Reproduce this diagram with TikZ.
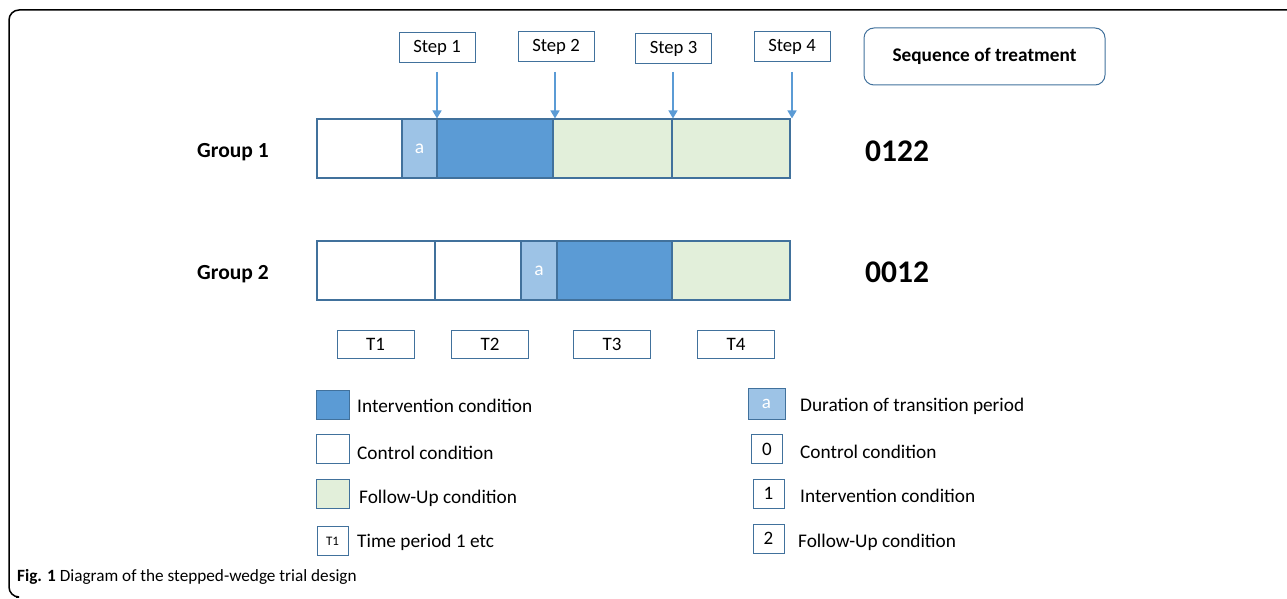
\documentclass[tikz,border=0pt]{standalone}
\usepackage{fontspec}
\setmainfont{Carlito}
\usetikzlibrary{arrows.meta}
\definecolor{darkb}{HTML}{5B9BD5}
\definecolor{lightb}{HTML}{9DC3E6}
\definecolor{greenf}{HTML}{E2EFDA}
\definecolor{edgeb}{HTML}{41719C}
\definecolor{arrb}{HTML}{5B9BD5}
\tikzset{
  seg/.style={draw=edgeb, line width=1.1pt, minimum height=59pt, inner sep=0pt, font=\fontsize{19.5}{19.5}\selectfont, text=white},
  stepbox/.style={draw=edgeb, line width=1pt, fill=white, minimum width=76pt, minimum height=30pt, inner sep=0pt, font=\fontsize{18.7}{18.7}\selectfont},
  tbox/.style={draw=edgeb, line width=1pt, minimum width=77pt, minimum height=28pt, inner sep=0pt, font=\fontsize{19}{19}\selectfont},
  legsq/.style={draw=edgeb, line width=1pt, minimum width=33pt, minimum height=29pt, inner sep=0pt, font=\fontsize{19}{19}\selectfont},
  legnum/.style={draw=edgeb, line width=1pt, minimum width=31pt, minimum height=29pt, inner sep=0pt, font=\fontsize{19}{19}\selectfont},
  legtxt/.style={anchor=west, inner sep=0pt, font=\fontsize{19.3}{19.3}\selectfont},
  grp/.style={anchor=west, inner sep=0pt, font=\fontsize{21.5}{21.5}\selectfont\bfseries},
  seq/.style={anchor=west, inner sep=0pt, font=\fontsize{31.5}{31.5}\selectfont\bfseries},
  arr/.style={draw=arrb, line width=1.6pt, -{Triangle[width=9pt,length=8pt]}},
}
\begin{document}
\begin{tikzpicture}[x=1pt,y=-1pt]
\useasboundingbox (0,0) rectangle (1287,599);
% outer frame
\draw[line width=1.5pt, rounded corners=10pt] (1287,10) -- (9,10) -- (9,597) -- (16,597);
% step boxes
\node[stepbox] (s1) at (437,48) {Step 1};
\node[stepbox] (s2) at (556,46.5) {Step 2};
\node[stepbox] (s3) at (673.5,48.5) {Step 3};
\node[stepbox] (s4) at (792,46.5) {Step 4};
% sequence box
\node[draw=edgeb, line width=1pt, rounded corners=10pt, minimum width=241pt, minimum height=57pt, inner sep=0pt, font=\fontsize{19.3}{19.3}\selectfont\bfseries] (seqbox) at (984.5,56.5) {Sequence of treatment};
% group 1 bar
\node[seg, fill=white, minimum width=85pt] (g1a) at (359.5,148.5) {};
\node[seg, fill=lightb, minimum width=35pt] (g1b) at (419.5,148.5) {a};
\node[seg, fill=darkb, minimum width=116pt] (g1c) at (495,148.5) {};
\node[seg, fill=greenf, minimum width=119pt] (g1d) at (612.5,148.5) {};
\node[seg, fill=greenf, minimum width=118pt] (g1e) at (731,148.5) {};
% group 2 bar
\node[seg, fill=white, minimum width=118pt] (g2a) at (376,270.5) {};
\node[seg, fill=white, minimum width=86pt] (g2b) at (478,270.5) {};
\node[seg, fill=lightb, minimum width=36pt] (g2c) at (539,270.5) {a};
\node[seg, fill=darkb, minimum width=115pt] (g2d) at (614.5,270.5) {};
\node[seg, fill=greenf, minimum width=118pt] (g2e) at (731,270.5) {};
% arrows
\coordinate (a1) at (437,72);
\coordinate (a2) at (555,72);
\coordinate (a3) at (673,72);
\coordinate (a4) at (792,72);
\draw[arr] (a1) -- (a1 |- g1a.north);
\draw[arr] (a2) -- (a2 |- g1a.north);
\draw[arr] (a3) -- (a3 |- g1a.north);
\draw[arr] (a4) -- (a4 |- g1a.north);
% group labels
\node[grp] (l1) at (197,152) {Group 1};
\node[grp] (l2) at (197,274) {Group 2};
\node[seq] (q1) at (865,151) {0122};
\node[seq] (q2) at (865,272) {0012};
% time boxes
\node[tbox] (t1) at (375.5,344.5) {T1};
\node[tbox] (t2) at (490,344.5) {T2};
\node[tbox] (t3) at (612,344.5) {T3};
\node[tbox] (t4) at (736,344.5) {T4};
% legend left
\node[legsq, fill=darkb] (k1) at (332.5,404.5) {};
\node[legtxt] (k1t) at (357,406) {Intervention condition};
\node[legsq, fill=white] (k2) at (332.5,449) {};
\node[legtxt] (k2t) at (357,453) {Control condition};
\node[legsq, fill=greenf] (k3) at (332.5,494) {};
\node[legtxt] (k3t) at (359,498) {Follow-Up condition};
\node[legnum, font=\fontsize{13}{13}\selectfont] (k4) at (332.5,541) {T1};
\node[legtxt] (k4t) at (357,542) {Time period 1 etc};
% legend right
\node[legsq, fill=lightb, minimum width=37pt, minimum height=31pt, text=white] (r1) at (766.5,403.5) {a};
\node[legtxt] (r1t) at (800,406) {Duration of transition period};
\node[legnum] (r2) at (767,449) {0};
\node[legtxt] (r2t) at (800,452) {Control condition};
\node[legnum] (r3) at (768.5,493.5) {1};
\node[legtxt] (r3t) at (800,496) {Intervention condition};
\node[legnum] (r4) at (768.5,538.5) {2};
\node[legtxt] (r4t) at (798,542) {Follow-Up condition};
% caption
\node[anchor=west, inner sep=0pt, font=\fontsize{17.2}{17.2}\selectfont] (cap) at (17,577) {\textbf{Fig. 1} Diagram of the stepped-wedge trial design};
\end{tikzpicture}
\end{document}
